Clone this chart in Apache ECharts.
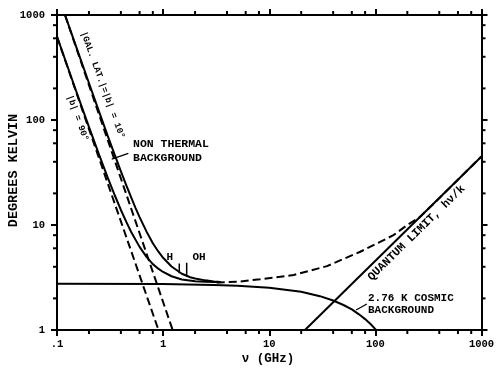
<!DOCTYPE html>
<html><head><meta charset="utf-8">
<script src="https://cdn.jsdelivr.net/npm/echarts@6/dist/echarts.min.js"></script>
<style>html,body{margin:0;padding:0;background:#fff}#c{width:500px;height:372px}</style>
</head><body><div id="c"></div>
<script>
// ---- data ----
const xTickValues = [0.1, 1, 10, 100, 1000];
const xTickLabels = ['.1', '1', '10', '100', '1000'];
const yTickValues = [1, 10, 100, 1000];
const yTickLabels = ['1', '10', '100', '1000'];
const xMinor = [0.2,0.4,0.6,0.8, 2,4,6,8, 20,40,60,80, 200,400,600,800];
const yMinor = [2,4,6,8, 20,40,60,80, 200,400,600,800];
const xAxisTitle = '\u03BD (GHz)';
const yAxisTitle = 'DEGREES KELVIN';

const galUpper = [[0.119,1000],[1.23,1]];
const galLower = [[0.1,621],[0.904,1]];
const totalUpper = [[0.119,1000],[0.15,514],[0.2,225],[0.25,119],[0.3,71],[0.35,46.5],[0.4,32.4],[0.45,23.9],[0.5,18.3],[0.55,14.5],[0.6,11.9],[0.7,8.6],[0.8,6.7],[0.9,5.6],[1.0,4.87],[1.2,4.02],[1.5,3.43],[1.8,3.18],[2.0,3.09],[2.5,2.97],[3.0,2.9],[3.5,2.86]];
const totalLower = [[0.1,624],[0.15,194],[0.2,86],[0.25,46.3],[0.3,28.4],[0.35,19.2],[0.4,13.9],[0.45,10.7],[0.5,8.58],[0.6,6.19],[0.7,4.95],[0.8,4.24],[0.9,3.84],[1.0,3.57],[1.2,3.25],[1.5,3.03],[2.0,2.91],[2.5,2.88],[3.0,2.86],[3.5,2.85]];
const totalHigh = [[3.2,2.84],[5,2.88],[8.2,3.04],[17,3.34],[35,4.06],[72,5.56],[148,8.0],[200,10.0],[260,11.8],[400,18],[1000,45]];
const cosmic = [[0.1,2.76],[1,2.74],[3,2.69],[5,2.64],[10,2.53],[20,2.31],[30,2.10],[40,1.91],[50,1.73],[60,1.57],[70,1.41],[80,1.27],[90,1.14],[100,1.02],[102,1]];
const quantum = [[21.7,1],[1000,45]];
const hMarker = [[1.42,3.47],[1.42,4.31]];
const ohMarker = [[1.667,3.21],[1.667,4.37]];
const nonThermalLeader = [[0.328,42.4],[0.47,48]];
const cosmicLeader = [[65.8,1.55],[83,1.77]];

const FONT = '"Liberation Mono", "DejaVu Sans Mono", monospace';
const chart = echarts.init(document.getElementById('c'), null, {renderer:'canvas'});

function lineSeries(data, dashed, width) {
  return {type:'line', data:data, showSymbol:false, symbol:'none', silent:true, clip:true,
    xAxisIndex:0, yAxisIndex:0,
    lineStyle:{color:'#000', width:width||2, type: dashed ? [8,4] : 'solid', cap:'butt'}};
}
function txt(s, x, y, size, align, rot) {
  return {type:'text', x:x, y:y, rotation:rot||0, silent:true,
    style:{text:s, font:'bold ' + size + 'px ' + FONT, fill:'#000',
      align:align||'left', verticalAlign:'middle', textAlign:align||'left', textVerticalAlign:'middle'}};
}
const axisCommon = {type:'log', logBase:10, min:0.1, max:1000,
  axisLine:{show:true, onZero:false, lineStyle:{color:'#000', width:2}},
  axisTick:{show:true, inside:false, length:6, lineStyle:{color:'#000', width:2}},
  splitLine:{show:false}, minorTick:{show:false}, minorSplitLine:{show:false}};

const minorData = xMinor.map(v => [v, 1, 0]).concat(yMinor.map(v => [0.1, v, 1]));

chart.setOption({
  animation:false,
  backgroundColor:'#fff',
  grid:{left:57, right:18.5, top:15, bottom:42, containLabel:false, outerBoundsMode:'none'},
  xAxis:[
    Object.assign({}, axisCommon, {position:'bottom', min:0.1, max:1000,
      axisLabel:{color:'#000', fontFamily:FONT, fontWeight:'bold', fontSize:10.5, margin:9,
        formatter: v => { const i = xTickValues.findIndex(t => Math.abs(Math.log10(t) - Math.log10(v)) < 1e-6); return i >= 0 ? xTickLabels[i] : ''; }}}),
    Object.assign({}, axisCommon, {position:'top', min:0.1, max:1000, axisLabel:{show:false}})
  ],
  yAxis:[
    Object.assign({}, axisCommon, {position:'left', min:1, max:1000,
      axisLabel:{color:'#000', fontFamily:FONT, fontWeight:'bold', fontSize:10.5, margin:12,
        formatter: v => { const i = yTickValues.findIndex(t => Math.abs(Math.log10(t) - Math.log10(v)) < 1e-6); return i >= 0 ? yTickLabels[i] : ''; }}}),
    Object.assign({}, axisCommon, {position:'right', min:1, max:1000, axisLabel:{show:false}})
  ],
  series:[
    lineSeries(galUpper, true),
    lineSeries(galLower, true),
    lineSeries(totalUpper, false),
    lineSeries(totalLower, false),
    lineSeries(totalHigh, true),
    lineSeries(cosmic, false),
    lineSeries(quantum, false),
    lineSeries(hMarker, false, 1.5),
    lineSeries(ohMarker, false, 1.5),
    lineSeries(nonThermalLeader, false, 1.3),
    lineSeries(cosmicLeader, false, 1.3),
    {type:'custom', coordinateSystem:'cartesian2d', xAxisIndex:0, yAxisIndex:0, silent:true, clip:false,
      data:minorData, encode:{x:0, y:1},
      renderItem:function(params, api){
        const cs = params.coordSys;
        const p = api.coord([api.value(0), api.value(1)]);
        const st = {stroke:'#000', lineWidth:2};
        const L = 4;
        if (api.value(2) === 0) {
          const b = cs.y + cs.height, t = cs.y;
          return {type:'group', children:[
            {type:'line', shape:{x1:p[0], y1:b, x2:p[0], y2:b+L}, style:st},
            {type:'line', shape:{x1:p[0], y1:t, x2:p[0], y2:t-L}, style:st}]};
        } else {
          const l = cs.x, r = cs.x + cs.width;
          return {type:'group', children:[
            {type:'line', shape:{x1:l, y1:p[1], x2:l-L, y2:p[1]}, style:st},
            {type:'line', shape:{x1:r, y1:p[1], x2:r+L, y2:p[1]}, style:st}]};
        }
      }}
  ],
  graphic:[
    txt(yAxisTitle, 14, 170.5, 13.5, 'center', Math.PI/2),
    txt(xAxisTitle, 268, 359, 12.5, 'center'),
    txt('|GAL. LAT.|=|b| = 10\u00B0', 102.5, 85, 9, 'center', -1.22),
    txt('|b| = 90\u00B0', 77.5, 118, 9, 'center', -1.22),
    txt('NON THERMAL', 133, 144.5, 11.5, 'left'),
    txt('BACKGROUND', 133, 158, 11.5, 'left'),
    txt('H', 169.7, 257, 11, 'center'),
    txt('OH', 199, 257, 11, 'center'),
    txt('QUANTUM LIMIT, h\u03BD/k', 416.5, 233, 11.5, 'center', 0.775),
    txt('2.76 K COSMIC', 368, 298, 11, 'left'),
    txt('BACKGROUND', 368, 310.5, 11, 'left')
  ]
});
</script></body></html>
